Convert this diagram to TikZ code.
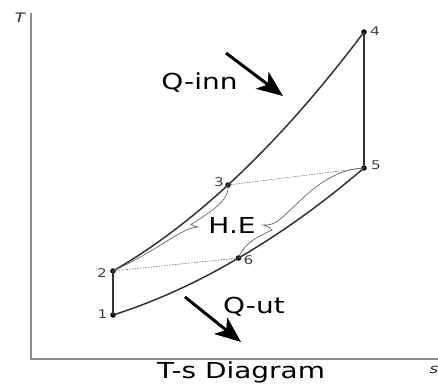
\documentclass[tikz,border=0pt]{standalone}
\usepackage{fontspec}
\setmainfont{DejaVu Sans}
\usetikzlibrary{arrows.meta}
\newcommand\hstretch[1]{\scalebox{1.27}[1]{#1}}
\begin{document}
\begin{tikzpicture}[x=1pt,y=-1pt,
  axis/.style={draw=black!45, line width=1.8pt},
  curve/.style={draw=black!80, line width=1.5pt},
  thinline/.style={draw=black!60, line width=0.7pt},
  dotline/.style={draw=black!55, line width=0.6pt, dash pattern=on 1.5pt off 1.2pt},
  pt/.style={circle, fill=black, inner sep=0pt, minimum size=5.5pt},
  num/.style={text=black!75, font=\fontsize{12}{14}\selectfont, inner sep=0pt},
  axlabel/.style={text=black!85, font=\fontsize{13}{15}\selectfont\itshape, inner sep=0pt},
  big/.style={font=\fontsize{22}{26}\selectfont, inner sep=0pt, anchor=base},
  qarrow/.style={line width=3pt, -{Stealth[length=26pt,width=21pt,inset=7pt]}}
]
\useasboundingbox (0,0) rectangle (438,383);
% axes
\coordinate (ytop) at (31,13);
\coordinate (orig) at (31,359);
\coordinate (xend) at (438,359);
\draw[axis] (ytop) -- (orig) -- (xend);
\node[axlabel] (tl) at (20,18) {\hstretch{T}};
\node[axlabel] (sl) at (434,370) {\hstretch{s}};
% state points
\node[pt] (p1) at (113,315) {};
\node[pt] (p2) at (113,271) {};
\node[pt] (p3) at (228,185) {};
\node[pt] (p4) at (364,32) {};
\node[pt] (p5) at (364,168) {};
\node[pt] (p6) at (238.5,258) {};
% dotted regenerator lines
\draw[dotline] (p2.center) -- (p6.center);
\draw[dotline] (p3.center) -- (p5.center);
% cycle
\draw[curve] (p1.center) -- (p2.center);
\draw[curve] (p2.center) .. controls (151.3,249) and (189.7,220.3) .. (p3.center);
\draw[curve] (p3.center) .. controls (273.3,143.3) and (318.7,92.3) .. (p4.center);
\draw[curve] (p4.center) -- (p5.center);
\draw[curve] (p1.center) .. controls (154.8,301.7) and (196.7,282.8) .. (p6.center);
\draw[curve] (p6.center) .. controls (280.3,233.8) and (322.2,203.7) .. (p5.center);
% braces
\coordinate (tipA) at (198,227);
\coordinate (tipB) at (263,225);
\draw[thinline] (p2.center) .. controls (150,254) and (172,236) .. (189,229)
   .. controls (192,228) and (195,227) .. (tipA)
   .. controls (195,226.5) and (193,225.5) .. (191,224.5)
   .. controls (212,211) and (230,200) .. (p3.center);
\draw[thinline] (p6.center) .. controls (244,242) and (262,235) .. (272,230)
   .. controls (269,226.5) and (266,225.5) .. (tipB)
   .. controls (269,225) and (272,224.5) .. (276,222)
   .. controls (295,210) and (320,170) .. (p5.center);
% point labels
\node[num] (l1) at (102.5,314) {\hstretch{1}};
\node[num] (l2) at (102,273) {\hstretch{2}};
\node[num] (l3) at (219,182) {\hstretch{3}};
\node[num] (l4) at (375,31.5) {\hstretch{4}};
\node[num] (l5) at (376,165) {\hstretch{5}};
\node[num] (l6) at (248.5,260) {\hstretch{6}};
% texts
\node[big] (qin) at (199.5,89) {\hstretch{Q-inn}};
\node[big] (he) at (232,233) {\hstretch{H.E}};
\node[big] (qut) at (254,313) {\hstretch{Q-ut}};
\node[big] (title) at (241,378) {\hstretch{T-s Diagram}};
% heat arrows
\coordinate (a1s) at (226,53);
\coordinate (a1e) at (283,96);
\coordinate (a2s) at (185,297);
\coordinate (a2e) at (241,342);
\draw[qarrow] (a1s) -- (a1e);
\draw[qarrow] (a2s) -- (a2e);
\end{tikzpicture}
\end{document}
